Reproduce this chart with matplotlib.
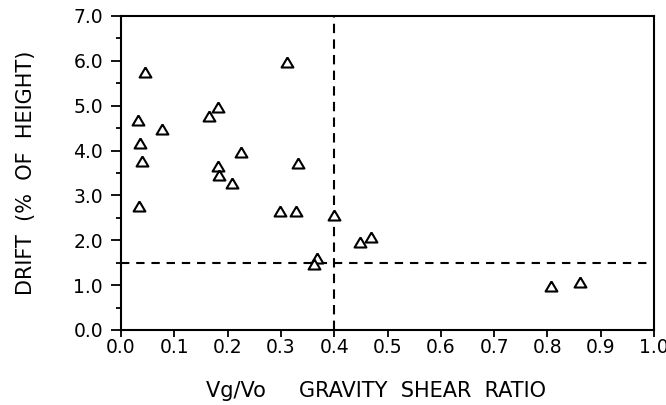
import matplotlib.pyplot as plt
from matplotlib.ticker import MultipleLocator

# Vg/Vo (gravity shear ratio) and drift (% of height)
ratio = [0.045, 0.311, 0.032, 0.182, 0.165, 0.077, 0.036, 0.225, 0.039, 0.332,
         0.182, 0.184, 0.208, 0.034, 0.298, 0.328, 0.400, 0.448, 0.469, 0.368,
         0.362, 0.807, 0.861]
drift = [5.75, 5.97, 4.68, 4.97, 4.77, 4.47, 4.16, 3.96, 3.76, 3.72,
         3.65, 3.45, 3.27, 2.76, 2.65, 2.65, 2.56, 1.96, 2.07, 1.60,
         1.47, 0.98, 1.07]

ratio_limit = 0.4
drift_limit = 1.5

plt.rcParams['font.family'] = ['DejaVu Sans']

fig = plt.figure(figsize=(6.66, 4.05), dpi=100)
ax = fig.add_axes([0.1817, 0.1852, 0.8003, 0.7753])

# slightly flattened open triangle like the plotter symbol
tri = [(0, 0.85), (-1, -0.85), (1, -0.85), (0, 0.85)]
ax.plot(ratio, drift, linestyle='none', marker=tri, markersize=8.5,
        markerfacecolor='white', markeredgecolor='black', markeredgewidth=1.5)

ax.axvline(ratio_limit, color='black', linewidth=1.5, dashes=(4.5, 3), zorder=1)
ax.axhline(drift_limit, color='black', linewidth=1.5, dashes=(4, 3.3), zorder=1)

ax.set_xlim(0.0, 1.0)
ax.set_ylim(0.0, 7.0)
ax.xaxis.set_major_locator(MultipleLocator(0.1))
ax.yaxis.set_major_locator(MultipleLocator(1.0))
ax.yaxis.set_minor_locator(MultipleLocator(0.5))
ax.xaxis.set_major_formatter(lambda v, p: f'{v:.1f}')
ax.yaxis.set_major_formatter(lambda v, p: f'{v:.1f}')

ax.tick_params(axis='x', which='major', direction='out', length=5, width=1.3,
               labelsize=13.5, pad=1)
ax.tick_params(axis='y', which='major', direction='out', length=7, width=1.3,
               labelsize=13.5, pad=6)
ax.tick_params(axis='y', which='minor', direction='out', length=3.6, width=1.3)
for s in ax.spines.values():
    s.set_linewidth(1.5)

ax.set_xlabel('Vg/Vo     GRAVITY  SHEAR  RATIO', fontsize=15)
ax.set_ylabel('DRIFT  (%  OF  HEIGHT)', fontsize=15)
ax.xaxis.set_label_coords(0.479, -0.162)
ax.yaxis.set_label_coords(-0.16, 0.5)

fig.savefig('out.png', dpi=100)
